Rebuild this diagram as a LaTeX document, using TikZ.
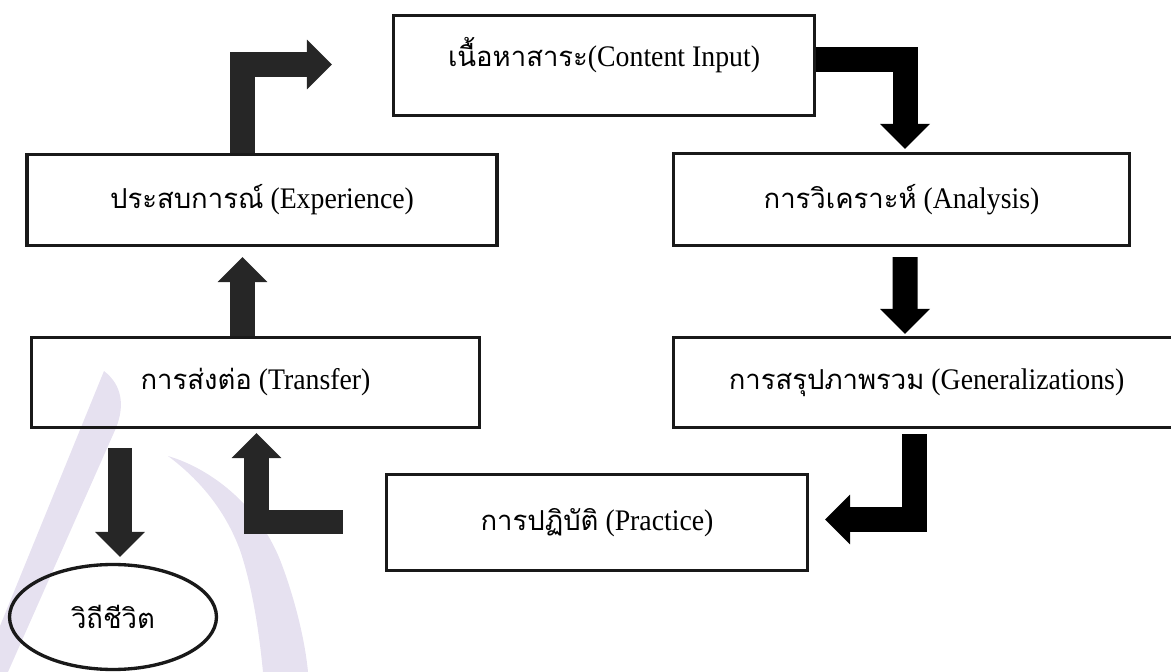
\documentclass[tikz,border=0pt]{standalone}
\usepackage{fontspec}
\setmainfont{Liberation Serif}[FakeStretch=0.93]
\newfontfamily\thai[Script=Thai,Scale=0.92]{Loma}
\usetikzlibrary{arrows.meta,calc,shapes.geometric}
\definecolor{ink}{HTML}{262626}
\definecolor{drop}{RGB}{230,225,240}

\begin{document}
\begin{tikzpicture}[x=0.02cm, y=-0.02cm,
    box/.style={draw=black!90, line width=1.9pt, inner sep=0pt,
      font=\fontsize{17}{20}\selectfont},
    oval/.style={box, ellipse},
    fat/.style={draw=#1, line width=0.5cm,
      -{Triangle[length=0.5cm, width=1cm, line width=0pt]}},
    fat/.default=black]
  \useasboundingbox (0,0) rectangle (1171,672);
  % watermark
  \fill[drop] (104,371) .. controls (122,385) and (125,405) .. (116,428)
    -- (0,690) -- (0,626) -- cycle;
  \fill[drop] (168,456) .. controls (215,470) and (262,510) .. (282,565)
    .. controls (295,600) and (305,640) .. (308,672) -- (263,672)
    .. controls (258,620) and (250,580) .. (240,550)
    .. controls (225,510) and (200,480) .. (168,456) -- cycle;

  \node[box, minimum width=8.42cm, minimum height=2cm,
    text height=0.5cm, text depth=0.45cm] (content) at (604,65.5)
    {{\thai เนื้อหาสาระ}(Content Input)};
  \node[box, minimum width=9.4cm, minimum height=1.82cm] (exper) at (262,200)
    {{\thai ประสบการณ์} (Experience)};
  \node[box, minimum width=9.12cm, minimum height=1.84cm] (analy) at (901.5,199.5)
    {{\thai การวิเคราะห์} (Analysis)};
  \node[box, minimum width=8.96cm, minimum height=1.8cm] (transf) at (255.5,382.5)
    {{\thai การส่งต่อ} (Transfer)};
  \node[box, minimum width=10.12cm, minimum height=1.8cm] (gen) at (926.5,382.5)
    {{\thai การสรุปภาพรวม} (Generalizations)};
  \node[box, minimum width=8.42cm, minimum height=1.92cm] (pract) at (597,522.5)
    {{\thai การปฏิบัติ} (Practice)};
  \node[oval, minimum width=4.14cm, minimum height=2.1cm] (life) at (113,617)
    {\thai วิถีชีวิต};

  \draw[fat=ink, shorten >=1.2cm]
    ($(exper.north)+(-19.5,0)$) |- ($(content.west)+(0,-1)$);
  \draw[fat, shorten >=0.06cm]
    ($(content.east)+(0,-5.5)$) -| ($(analy.north)+(3.5,0)$);
  \draw[fat, shorten <=0.2cm, shorten >=0.04cm]
    ($(analy.south)+(3.5,0)$) -- ($(gen.north)+(-21.5,0)$);
  \draw[fat, shorten <=0.1cm, shorten >=0.32cm]
    ($(gen.south)+(-12,0)$) |- ($(pract.east)+(0,-3)$);
  \draw[fat=ink, shorten <=0.84cm, shorten >=0.08cm]
    ($(pract.west)+(0,-0.5)$) -| ($(transf.south)+(1,0)$);
  \draw[fat=ink, shorten <=0.38cm, shorten >=0.12cm]
    ($(transf.south)+(-135.5,0)$) -- ($(life.north)+(7,0)$);
  \draw[fat=ink, shorten >=0.2cm]
    ($(transf.north)+(-13,0)$) -- ($(exper.south)+(-19.5,0)$);
\end{tikzpicture}
\end{document}
